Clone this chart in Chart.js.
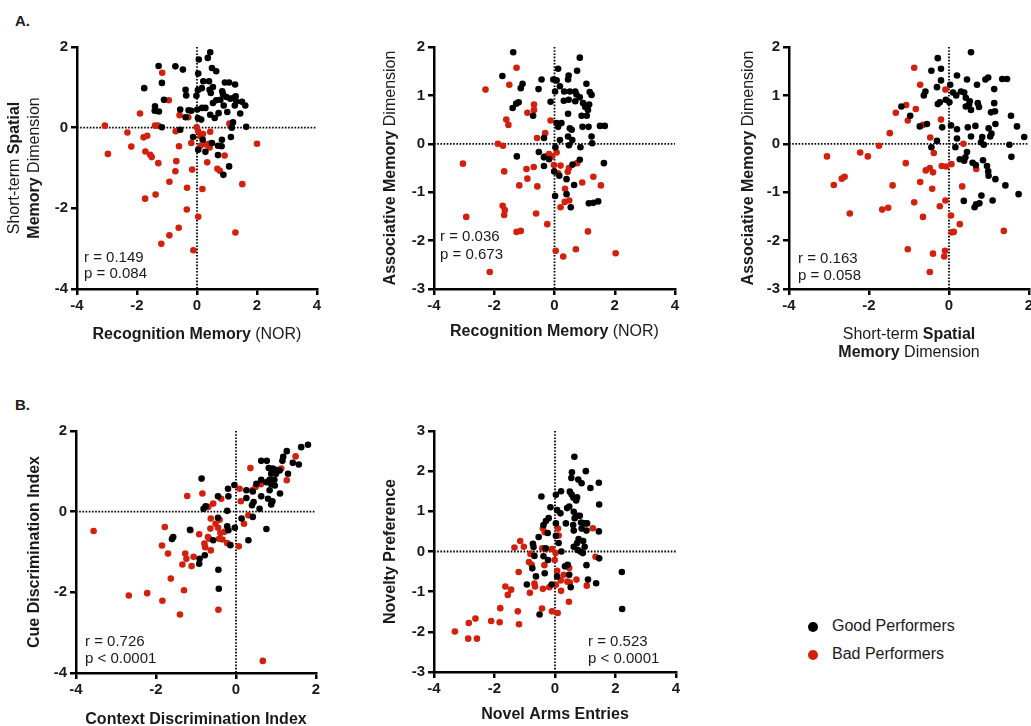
<!DOCTYPE html>
<html>
<head>
<meta charset="utf-8">
<title>Performer correlations</title>
<script src="https://cdn.jsdelivr.net/npm/chart.js@4.4.1/dist/chart.umd.min.js"></script>
<style>
  html, body { margin: 0; padding: 0; background: #fff; overflow: hidden; }
  body { width: 1031px; height: 726px; position: relative; font-family: "Liberation Sans", Arial, sans-serif; color: #1a1a1a; }
  canvas { position: absolute; }
  .panel-label { position: absolute; font-weight: bold; font-size: 15px; line-height: 1; }
  .legend { position: absolute; left: 808px; top: 615px; font-size: 16px; }
  .legend div { height: 28px; line-height: 22px; white-space: nowrap; }
  .legend span.dot { display: inline-block; width: 10px; height: 10px; border-radius: 50%; margin-right: 14px; vertical-align: -1px; }
</style>
</head>
<body>
<div class="panel-label" style="left:15px; top:13px;">A.</div>
<div class="panel-label" style="left:15px; top:397px;">B.</div>

<canvas id="a1" width="340" height="330" style="left:0px; top:30px;"></canvas>
<canvas id="a2" width="350" height="330" style="left:340px; top:30px;"></canvas>
<canvas id="a3" width="370" height="330" style="left:690px; top:30px;"></canvas>
<canvas id="b1" width="340" height="326" style="left:0px; top:400px;"></canvas>
<canvas id="b2" width="350" height="326" style="left:340px; top:400px;"></canvas>

<div class="legend">
  <div><span class="dot" style="background:#000"></span>Good Performers</div>
  <div><span class="dot" style="background:#d2200d"></span>Bad Performers</div>
</div>

<script>
const GOOD = '#000000';
const BAD = '#d2200d';
const FONT = '"Liberation Sans", Arial, sans-serif';

// Recognition memory (NOR) vs short-term spatial memory
const a1Good = [
  [0.44,1.87],[0.06,1.69],[0.36,1.73],[-0.72,1.52],[-1.28,1.53],[-0.47,1.44],[0.5,1.48],[0.64,1.4],
  [0.04,1.34],[-1.17,1.11],[0.21,1.15],[0.4,1.15],[1.07,1.12],[0.93,1.12],[1.27,1.07],[-1.76,0.98],
  [-0.38,0.94],[0.16,0.98],[0.53,1.01],[0.03,0.93],[0.46,0.86],[0.84,0.9],[-0.36,0.8],[-0.02,0.79],
  [0.42,0.94],[0.87,0.83],[0.98,0.76],[1.11,0.72],[1.23,0.74],[1.29,0.78],[1.5,0.64],[1.61,0.55],
  [-1.1,0.69],[0.64,0.68],[0.78,0.69],[0.53,0.61],[1.31,0.65],[1.26,0.55],[0.89,0.55],[-1.4,0.53],
  [-1.41,0.42],[-1.27,0.4],[-0.56,0.45],[-0.28,0.43],[-0.19,0.42],[0.28,0.49],[0.17,0.49],[0.01,0.45],
  [0.72,0.36],[1.01,0.39],[1.44,0.35],[0.44,0.32],[-0.38,0.26],[0.03,0.24],[0.59,0.24],[0.14,0.2],
  [1.2,0.13],[-1.17,0.01],[-0.56,-0.05],[1.64,0.02],[1.16,0],[-0.13,-0.23],[0.19,-0.3],[1.13,-0.23],
  [0.83,-0.3],[0.5,-0.38],[0.7,-0.45],[0.82,-0.46],[0.04,-0.55],[0.28,-0.6],[0.7,-0.68],[1.07,-0.96],
  [0.88,-1.17]
];
const a1Bad = [
  [-1.16,1.36],[-0.94,0.68],[-1.9,0.35],[-0.58,0.31],[-0.29,0.26],[-3.07,0.05],[-1.4,0.05],[-1.3,0.05],
  [-2.32,-0.12],[-0.01,0.01],[-0.71,-0.09],[0.04,-0.09],[-1.66,-0.2],[-1.78,-0.24],[0.44,-0.1],[0.2,-0.16],
  [0.12,-0.21],[1.08,0.1],[2.0,-0.4],[-2.19,-0.47],[-0.6,-0.46],[-0.19,-0.38],[0.12,-0.45],[0.4,-0.4],
  [0.42,-0.49],[0.31,-0.42],[-2.97,-0.65],[-1.72,-0.59],[-1.56,-0.67],[-1.51,-0.73],[0.92,-0.69],[-1.29,-0.88],
  [-0.69,-0.83],[0.34,-0.86],[-0.72,-1.08],[-0.16,-1.04],[0.68,-1.02],[0.76,-1.07],[-0.92,-1.34],[1.51,-1.4],
  [-0.33,-1.49],[0.18,-1.52],[-1.38,-1.66],[-1.73,-1.76],[-0.34,-2.03],[0.04,-2.21],[-0.61,-2.48],[1.28,-2.6],
  [-0.92,-2.67],[-1.19,-2.88],[-0.12,-3.04]
];

// Recognition memory (NOR) vs associative memory
const a2Good = [
  [-1.37,1.89],[0.84,1.78],[0.12,1.55],[0.75,1.51],[-1.73,1.4],[0.47,1.41],[0.45,1.33],[-0.43,1.33],
  [-0.04,1.33],[0.07,1.31],[1.06,1.24],[-1.06,1.24],[-1.12,1.15],[-0.53,1.13],[0.18,1.19],[0.32,1.08],
  [0.51,1.08],[0.69,1.08],[0.73,1.02],[1.17,1.07],[1.23,1.01],[0.02,1.08],[0.84,0.96],[-1.19,0.86],
  [-1.27,0.83],[-1.39,0.74],[-0.13,0.87],[0.31,0.89],[0.47,0.91],[0.69,0.88],[0.95,0.84],[1.15,0.81],
  [1.02,0.76],[1.11,0.7],[-0.71,0.58],[0.45,0.62],[0.9,0.58],[1.07,0.58],[0.07,0.43],[0.23,0.43],
  [0.12,0.35],[0.51,0.32],[0.57,0.29],[0.93,0.35],[1.13,0.35],[1.51,0.37],[1.67,0.37],[-0.35,0.12],
  [0.18,0.08],[0.45,0.15],[0.59,0.08],[1.23,0.15],[1.25,0.01],[0.48,-0.03],[0.86,-0.07],[0.03,-0.07],
  [-0.52,-0.17],[-1.25,-0.26],[-0.35,-0.28],[-0.18,-0.32],[0.84,-0.33],[-0.35,-0.46],[0.6,-0.43],[1.64,-0.4],
  [-0.01,-0.57],[0.16,-0.66],[0.4,-0.73],[0.65,-0.85],[0.4,-1.04],[0.02,-1.08],[1.14,-1.23],[1.29,-1.22],
  [1.45,-1.19],[0.54,-1.31]
];
const a2Bad = [
  [-1.26,1.57],[-2.29,1.12],[-1.5,1.22],[-0.68,0.81],[-0.68,0.7],[-0.9,0.64],[-0.13,0.48],[-1.6,0.5],
  [-1.53,0.39],[-0.31,0.22],[-0.58,0.12],[-1.88,0],[-1.71,-0.04],[-3.04,-0.41],[-0.32,-0.26],[-0.09,-0.26],
  [-0.18,-0.21],[0.07,-0.18],[-0.02,-0.44],[0.2,-0.45],[-0.69,-0.48],[-0.93,-0.52],[-1.67,-0.57],[0.48,-0.5],
  [0.44,-0.58],[0.75,-0.4],[0.12,-0.61],[-0.9,-0.72],[1.29,-0.68],[-1.17,-0.86],[-0.57,-0.88],[0.92,-0.8],
  [1.54,-0.86],[0.35,-0.93],[0.34,-1.2],[0.49,-1.17],[-1.72,-1.28],[-1.65,-1.37],[-1.67,-1.47],[-0.61,-1.44],
  [0.2,-1.31],[-2.93,-1.51],[-0.24,-1.66],[-1.26,-1.82],[-1.12,-1.8],[1.11,-1.81],[0.04,-2.21],[0.71,-2.18],
  [0.29,-2.33],[2.03,-2.26],[-2.15,-2.65]
];

// Short-term spatial memory vs associative memory
const a3Good = [
  [0.55,1.89],[-0.28,1.77],[-0.44,1.51],[-0.2,1.55],[0.2,1.41],[0.98,1.37],[0.91,1.33],[1.33,1.34],
  [1.45,1.34],[0.45,1.33],[-0.2,1.31],[0.7,1.22],[0.03,1.22],[-0.3,1.17],[1.13,1.13],[-0.59,1.08],
  [-0.63,1.0],[0.1,1.06],[0.3,1.08],[0.38,1.06],[0.18,1.0],[-0.08,0.91],[-0.23,0.86],[-0.28,0.82],
  [0.01,0.86],[0.42,0.95],[0.52,0.88],[0.5,0.81],[0.42,0.77],[0.72,0.84],[0.75,0.76],[1.13,0.84],
  [0.55,0.7],[1.05,0.65],[1.15,0.67],[-1.19,0.77],[-0.97,0.58],[-0.73,0.36],[-0.55,0.41],[-0.17,0.34],
  [0.05,0.38],[0.47,0.34],[0.66,0.37],[0.2,0.3],[0.99,0.32],[1.16,0.41],[1.55,0.58],[1.7,0.36],
  [0.55,0.15],[0.2,0.11],[0.83,0.14],[1.03,0.15],[1.06,0.21],[1.88,0.14],[0.8,0.03],[0.87,-0.02],
  [1.51,-0.02],[-0.3,0.06],[-0.44,-0.07],[0.16,-0.07],[0.45,-0.17],[1.56,-0.27],[0.27,-0.32],[0.41,-0.28],
  [0.38,-0.35],[0.85,-0.34],[0.59,-0.39],[0.67,-0.44],[0.95,-0.46],[0.98,-0.57],[0.99,-0.66],[1.16,-0.73],
  [1.41,-0.86],[0.81,-1.07],[1.74,-1.04],[0.37,-1.18],[1.09,-1.17],[0.76,-1.23],[0.68,-1.25],[0.64,-1.31]
];
const a3Bad = [
  [-0.87,1.57],[-0.72,1.22],[-0.09,1.12],[-1.07,0.8],[-0.83,0.72],[-1.33,0.64],[-1.03,0.48],[-0.2,0.5],
  [-0.65,0.39],[-1.48,0.22],[-0.47,0.13],[0.36,0],[-1.75,-0.04],[-2.22,-0.18],[-2.03,-0.26],[-3.05,-0.26],
  [-0.38,-0.19],[-1.08,-0.4],[-0.18,-0.46],[-0.07,-0.47],[0.06,-0.42],[-0.58,-0.55],[-0.48,-0.5],[-0.4,-0.59],
  [0.68,-0.52],[-2.61,-0.68],[-2.68,-0.72],[-2.88,-0.85],[-1.41,-0.86],[-0.72,-0.79],[-0.42,-0.93],[0.33,-0.88],
  [-0.87,-1.21],[-0.09,-1.17],[-0.23,-1.29],[-1.52,-1.32],[-1.67,-1.36],[-2.48,-1.44],[-0.65,-1.51],[0.05,-1.48],
  [0.27,-1.66],[0.12,-1.82],[0.07,-1.83],[1.37,-1.8],[-1.03,-2.18],[-0.4,-2.27],[-0.1,-2.21],[-0.12,-2.33],
  [-0.48,-2.65]
];

// Context vs cue discrimination
const b1Good = [
  [1.8,1.66],[1.63,1.6],[1.27,1.5],[1.18,1.36],[1.16,1.26],[0.63,1.26],[0.77,1.26],[1.42,1.21],
  [1.57,1.17],[0.82,1.08],[0.92,1.07],[0.99,1.04],[1.09,1.02],[0.88,0.94],[1.0,0.94],[1.3,0.94],
  [-0.86,0.82],[0.63,0.79],[0.84,0.79],[0.96,0.79],[0.51,0.69],[0.76,0.73],[0.88,0.68],[0.97,0.65],
  [-0.04,0.66],[-0.2,0.57],[0.26,0.53],[0.42,0.5],[0.84,0.53],[1.1,0.45],[0.63,0.38],[0.8,0.32],
  [0.91,0.26],[0.88,0.18],[-0.45,0.38],[-0.19,0.38],[0.26,0.34],[0.44,0.24],[0.4,0.16],[-0.76,0.13],
  [-0.81,0.07],[0.59,0.07],[-0.22,0.02],[0.14,-0.17],[0.42,-0.13],[-0.45,-0.15],[-0.22,-0.36],[-0.19,-0.46],
  [-0.03,-0.4],[0.76,-0.43],[-1.15,-0.45],[-1.57,-0.63],[-1.6,-0.68],[-0.57,-0.71],[0.31,-0.71],[-0.14,-0.83],
  [-0.78,-1.08],[-0.91,-1.17],[-0.92,-1.29],[-0.44,-1.44],[-0.43,-1.91]
];
const b1Bad = [
  [1.49,1.37],[1.13,1.07],[0.36,1.08],[1.27,0.78],[0.49,0.61],[0.62,0.68],[0.41,0.53],[0.09,0.57],
  [-1.22,0.39],[-0.84,0.45],[0.12,0.26],[-0.57,0.2],[-0.37,0.32],[-0.69,0.12],[-3.56,-0.48],[-1.78,-0.38],
  [0.31,-0.09],[0.2,-0.3],[-0.63,-0.17],[-0.51,-0.3],[-0.41,-0.2],[-0.64,-0.42],[-0.45,-0.4],[-1.14,-0.46],
  [-0.29,-0.5],[-0.39,-0.53],[-0.92,-0.56],[-0.7,-0.63],[-0.67,-0.67],[-0.42,-0.67],[-0.34,-0.69],[-1.85,-0.84],
  [-0.79,-0.79],[-0.22,-0.78],[0.07,-0.86],[-0.77,-0.88],[-0.63,-0.96],[-1.7,-1.04],[-1.27,-1.04],[-1.06,-1.12],
  [-1.24,-1.17],[-1.34,-1.31],[-1.11,-1.35],[-1.63,-1.66],[-1.3,-1.95],[-2.22,-2.02],[-2.68,-2.08],[-1.84,-2.21],
  [-0.44,-2.43],[-1.4,-2.55],[0.67,-3.7]
];

// Novel arms entries vs novelty preference
const b2Good = [
  [0.64,2.36],[1.02,2.0],[0.56,1.97],[0.54,1.83],[0.77,1.79],[0.88,1.7],[1.45,1.71],[1.17,1.58],
  [-0.45,1.37],[0.2,1.5],[0.03,1.41],[0.49,1.49],[0.55,1.42],[0.61,1.34],[0.73,1.35],[0.7,1.27],
  [-0.15,1.1],[0.07,1.03],[0.4,1.08],[0.47,1.12],[1.46,1.17],[0.18,0.95],[0.62,0.99],[0.75,0.89],
  [0.82,0.89],[0.65,0.83],[-0.21,0.83],[-0.3,0.76],[-0.38,0.66],[0.03,0.7],[0.36,0.7],[0.6,0.66],
  [0.86,0.72],[0.97,0.7],[1.06,0.7],[0.88,0.57],[1.04,0.52],[0.62,0.52],[1.45,0.5],[-0.54,0.36],
  [-0.24,0.46],[0.03,0.39],[0.78,0.31],[0.93,0.26],[0.73,0.21],[0.98,0.12],[-0.73,0.19],[-0.71,0.11],
  [-0.31,0.08],[0.12,0.21],[0.21,0],[0.62,0.12],[0.75,0.04],[0.84,0],[0.92,-0.04],[1.46,-0.17],
  [-0.68,-0.11],[-0.38,-0.12],[-0.23,-0.21],[-0.75,-0.42],[-0.34,-0.54],[0.42,-0.33],[0.33,-0.37],[1.04,-0.34],
  [-0.63,-0.62],[0.07,-0.62],[0.47,-0.58],[-0.93,-0.82],[-0.11,-0.82],[0.52,-0.89],[1.09,-0.7],[1.36,-0.79],
  [2.21,-0.51],[2.22,-1.43],[-0.51,-1.57]
];
const b2Bad = [
  [1.25,0.58],[-0.4,0.58],[0.1,0.57],[-0.34,0.48],[0.12,0.4],[-1.15,0.26],[-1.34,0.1],[-1.03,0.12],
  [-0.81,-0.06],[-0.42,0.08],[-0.3,0.06],[-0.1,0.06],[0.02,-0.04],[-0.86,-0.26],[-0.77,-0.33],[-0.35,-0.34],
  [-0.01,-0.21],[0.47,-0.41],[1.34,-0.13],[-1.2,-0.51],[0.07,-0.48],[0.29,-0.58],[-0.68,-0.8],[-0.66,-0.87],
  [-0.83,-1.03],[-0.4,-0.93],[-0.19,-0.89],[0.19,-0.72],[0.41,-0.75],[0.49,-0.77],[0.71,-0.7],[1.05,-0.85],
  [-1.64,-0.87],[-1.45,-0.95],[-1.56,-1.08],[0.03,-0.83],[0.2,-0.98],[0.46,-1.25],[-1.23,-1.49],[-0.43,-1.42],
  [-0.1,-1.49],[0.09,-1.53],[-1.81,-1.41],[-2.63,-1.67],[-2.85,-1.78],[-2.11,-1.73],[-1.83,-1.76],[-1.19,-1.81],
  [-3.31,-1.99],[-2.87,-2.17],[-2.58,-2.17]
];

// draws a line made of [text, bold] pieces centred on (cx, cy)
function drawRich(ctx, pieces, cx, cy, size) {
  const fonts = pieces.map(([, bold]) => (bold ? 'bold ' : '') + size + 'px ' + FONT);
  const widths = pieces.map(([text], i) => { ctx.font = fonts[i]; return ctx.measureText(text).width; });
  let x = cx - widths.reduce((s, w) => s + w, 0) / 2;
  pieces.forEach(([text], i) => {
    ctx.font = fonts[i];
    ctx.fillText(text, x, cy);
    x += widths[i];
  });
}

const panelDecor = {
  id: 'panelDecor',
  beforeDatasetsDraw(chart) {
    // dotted zero lines across the plot
    const { ctx, chartArea: a, scales } = chart;
    const x0 = scales.x.getPixelForValue(0);
    const y0 = scales.y.getPixelForValue(0);
    ctx.save();
    ctx.strokeStyle = '#000';
    ctx.lineWidth = 1.8;
    ctx.setLineDash([1.6, 1.6]);
    ctx.beginPath();
    ctx.moveTo(a.left, y0); ctx.lineTo(a.right, y0);
    ctx.moveTo(x0, a.top); ctx.lineTo(x0, a.bottom);
    ctx.stroke();
    ctx.restore();
  },
  afterDraw(chart, args, opts) {
    const { ctx, chartArea: a } = chart;
    ctx.save();
    ctx.fillStyle = '#1a1a1a';
    ctx.textBaseline = 'middle';
    ctx.textAlign = 'left';
    const cx = (a.left + a.right) / 2;
    const cy = (a.top + a.bottom) / 2;
    opts.xTitle.forEach((line, i) => drawRich(ctx, line, cx, a.bottom + opts.xTitleDy[i], 16));
    opts.yTitle.forEach((line, i) => {
      ctx.save();
      ctx.translate(a.left - opts.yTitleDx[i], cy);
      ctx.rotate(-Math.PI / 2);
      drawRich(ctx, line, 0, 0, 16);
      ctx.restore();
    });
    ctx.font = '15px ' + FONT;
    opts.stats.forEach((t, i) => ctx.fillText(t, a.left + opts.statsDx, a.bottom - opts.statsDy[i]));
    ctx.restore();
  }
};

function makePanel(id, p) {
  return new Chart(document.getElementById(id), {
    type: 'scatter',
    data: {
      datasets: [
        { label: 'Good Performers', data: p.good.map(([x, y]) => ({ x, y })), backgroundColor: GOOD, clip: false },
        { label: 'Bad Performers', data: p.bad.map(([x, y]) => ({ x, y })), backgroundColor: BAD, clip: false }
      ]
    },
    options: {
      responsive: false,
      animation: false,
      events: [],
      layout: { padding: { left: 0, top: p.padTop, right: p.padRight, bottom: 0 } },
      elements: { point: { radius: 3.3, borderWidth: 0, hoverRadius: 3.3 } },
      scales: {
        x: {
          type: 'linear', min: p.xr[0], max: p.xr[1],
          afterFit: (s) => { s.height = p.xAxisH; },
          ticks: { stepSize: p.xStep, color: '#1a1a1a', padding: 2, font: { family: FONT, size: 15, weight: 'bold' } },
          grid: { drawOnChartArea: false, drawTicks: true, tickLength: 6, color: '#000', lineWidth: 2.5 },
          border: { color: '#000', width: 2.5 }
        },
        y: {
          type: 'linear', min: p.yr[0], max: p.yr[1],
          afterFit: (s) => { s.width = p.yAxisW; },
          ticks: { stepSize: p.yStep, color: '#1a1a1a', padding: 3, font: { family: FONT, size: 15, weight: 'bold' } },
          grid: { drawOnChartArea: false, drawTicks: true, tickLength: 6, color: '#000', lineWidth: 2.5 },
          border: { color: '#000', width: 2.5 }
        }
      },
      plugins: {
        legend: { display: false },
        tooltip: { enabled: false },
        panelDecor: {
          xTitle: p.xTitle, xTitleDy: p.xTitleDy,
          yTitle: p.yTitle, yTitleDx: p.yTitleDx,
          stats: p.stats, statsDx: p.statsDx, statsDy: p.statsDy
        }
      }
    },
    plugins: [panelDecor]
  });
}

const nor = [[['Recognition Memory', true], [' (NOR)', false]]];
const spatial = [
  [['Short-term ', false], ['Spatial', true]],
  [['Memory', true], [' Dimension', false]]
];
const assoc = [[['Associative Memory', true], [' Dimension', false]]];

makePanel('a1', {
  good: a1Good, bad: a1Bad, xr: [-4, 4], xStep: 2, yr: [-4, 2], yStep: 2,
  yAxisW: 77, xAxisH: 71, padTop: 17, padRight: 23,
  xTitle: nor, xTitleDy: [46],
  yTitle: spatial, yTitleDx: [62, 42],
  stats: ['r = 0.149', 'p = 0.084'], statsDx: 7, statsDy: [31, 15]
});

makePanel('a2', {
  good: a2Good, bad: a2Bad, xr: [-4, 4], xStep: 2, yr: [-3, 2], yStep: 1,
  yAxisW: 94, xAxisH: 71, padTop: 17, padRight: 15,
  xTitle: nor, xTitleDy: [43],
  yTitle: assoc, yTitleDx: [43],
  stats: ['r = 0.036', 'p = 0.673'], statsDx: 6, statsDy: [52, 34]
});

makePanel('a3', {
  good: a3Good, bad: a3Bad, xr: [-4, 2], xStep: 2, yr: [-3, 2], yStep: 1,
  yAxisW: 99, xAxisH: 71, padTop: 17, padRight: 31,
  xTitle: spatial, xTitleDy: [46, 64],
  yTitle: assoc, yTitleDx: [40],
  stats: ['r = 0.163', 'p = 0.058'], statsDx: 9, statsDy: [30, 13]
});

makePanel('b1', {
  good: b1Good, bad: b1Bad, xr: [-4, 2], xStep: 2, yr: [-4, 2], yStep: 2,
  yAxisW: 76, xAxisH: 53, padTop: 31, padRight: 24,
  xTitle: [[['Context Discrimination Index', true]]], xTitleDy: [47],
  yTitle: [[['Cue Discrimination Index', true]]], yTitleDx: [41],
  stats: ['r = 0.726', 'p < 0.0001'], statsDx: 9, statsDy: [31, 14]
});

makePanel('b2', {
  good: b2Good, bad: b2Bad, xr: [-4, 4], xStep: 2, yr: [-3, 3], yStep: 1,
  yAxisW: 94, xAxisH: 54, padTop: 31, padRight: 14,
  xTitle: [[['Novel Arms Entries', true]]], xTitleDy: [43],
  yTitle: [[['Novelty Preference', true]]], yTitleDx: [43],
  stats: ['r = 0.523', 'p < 0.0001'], statsDx: 154, statsDy: [30, 13]
});
</script>
</body>
</html>
